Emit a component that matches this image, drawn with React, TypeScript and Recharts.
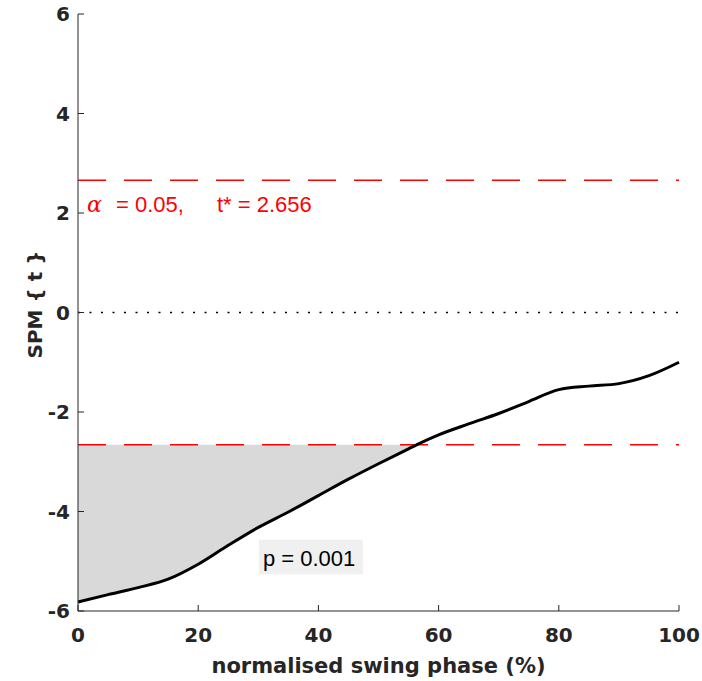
import React from 'react';
import { ComposedChart, Line, Area, XAxis, YAxis, ReferenceLine, ReferenceArea, Label } from 'recharts';

document.body.style.margin = '0';

// normalised swing phase (%) and SPM{t} trajectory
const phase = [0, 5, 10, 15, 20, 25, 30, 35, 40, 45, 50, 55, 56.4, 60, 65, 70, 75, 80, 85, 90, 95, 100];
const spmT = [-5.82, -5.67, -5.53, -5.36, -5.06, -4.68, -4.32, -4.01, -3.68, -3.35, -3.04, -2.74, -2.656, -2.46, -2.24, -2.03, -1.79, -1.55, -1.48, -1.43, -1.27, -1.0];

const tCritical = 2.656;
const alpha = 0.05;
const pValue = '0.001';
const clusterEnd = 56.4;

const xTicks = [0, 20, 40, 60, 80, 100];
const yTicks = [-6, -4, -2, 0, 2, 4, 6];

const data = phase.map((x, i) => ({
  x,
  t: spmT[i],
  band: x <= clusterEnd ? [spmT[i], -tCritical] : null,
}));

const AXIS = '#262626';
const BOLD = { fontFamily: 'DejaVu Sans', fontWeight: 700, fill: AXIS };

const YTick = ({ x, y, payload }: any) => (
  <g>
    <line x1={x + 8} x2={x + 14} y1={y} y2={y} stroke={AXIS} />
    <text x={x} y={y} dy="0.36em" textAnchor="end" fontSize={20} {...BOLD}>
      {payload.value}
    </text>
  </g>
);

const XTick = ({ x, y, payload }: any) => (
  <g>
    <line x1={x} x2={x} y1={y} y2={y - 6} stroke={AXIS} />
    <text x={x} y={y + 31} textAnchor="middle" fontSize={20} {...BOLD}>
      {payload.value}
    </text>
  </g>
);

const App = () => {
  return (
    <div style={{ width: 702, height: 681, background: '#fff' }}>
      <ComposedChart width={702} height={681} data={data} margin={{ top: 14, right: 23, bottom: 0, left: 0 }}>
        <Area
          type="monotone"
          dataKey="band"
          stroke="none"
          fill="#d9d9d9"
          fillOpacity={1}
          isAnimationActive={false}
          connectNulls={false}
        />
        <ReferenceLine y={0} stroke="#000" strokeWidth={1.5} strokeDasharray="2 9.5" />
        <ReferenceLine y={-tCritical} stroke="#ff0000" strokeWidth={1.5} strokeDasharray="28 18" />
        <ReferenceLine y={tCritical} stroke="#ff0000" strokeWidth={1.5} strokeDasharray="28 18">
          <Label
            content={({ viewBox }: any) => (
              <text y={viewBox.y + 32} fontSize={22} fill="#ff0000" fontFamily="Liberation Sans">
                <tspan x={viewBox.x + 9} fontFamily="DejaVu Serif" fontStyle="italic">α</tspan>
                <tspan x={viewBox.x + 38}>{`= ${alpha},`}</tspan>
                <tspan x={viewBox.x + 139}>{`t* = ${tCritical}`}</tspan>
              </text>
            )}
          />
        </ReferenceLine>
        <ReferenceArea x1={30.1} x2={47.4} y1={-5.26} y2={-4.57} fill="#f0f0f0" fillOpacity={1} stroke="none">
          <Label
            content={({ viewBox }: any) => (
              <text x={viewBox.x + 4} y={viewBox.y + 26} fontSize={22} fill="#000" fontFamily="Liberation Sans">
                {`p = ${pValue}`}
              </text>
            )}
          />
        </ReferenceArea>
        <Line
          type="monotone"
          dataKey="t"
          stroke="#000"
          strokeWidth={3}
          dot={false}
          activeDot={false}
          isAnimationActive={false}
        />
        <XAxis
          dataKey="x"
          type="number"
          domain={[0, 100]}
          ticks={xTicks}
          height={70}
          tickLine={false}
          tickSize={0}
          tickMargin={0}
          stroke={AXIS}
          tick={<XTick />}
          interval={0}
        >
          <Label
            content={({ viewBox }: any) => (
              <text x={viewBox.x + viewBox.width / 2} y={viewBox.y + 62} textAnchor="middle" fontSize={21} {...BOLD}>
                normalised swing phase (%)
              </text>
            )}
          />
        </XAxis>
        <YAxis
          type="number"
          domain={[-6, 6]}
          ticks={yTicks}
          width={78}
          tickLine={false}
          tickSize={0}
          tickMargin={8}
          stroke={AXIS}
          tick={<YTick />}
          interval={0}
        >
          <Label
            content={({ viewBox }: any) => {
              const cx = viewBox.x + 42;
              const cy = viewBox.y + viewBox.height / 2 - 8;
              return (
                <text x={cx} y={cy} transform={`rotate(-90 ${cx} ${cy})`} textAnchor="middle" fontSize={20} {...BOLD}>
                  SPM {'{'} t {'}'}
                </text>
              );
            }}
          />
        </YAxis>
      </ComposedChart>
    </div>
  );
};

export default App;
